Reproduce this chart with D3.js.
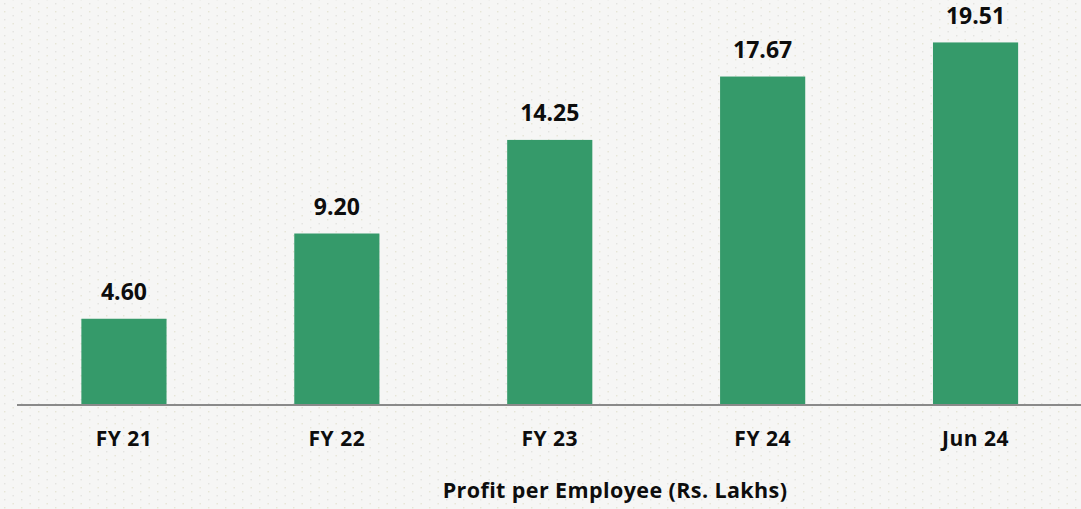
<!DOCTYPE html>
<html>
<head>
<meta charset="utf-8">
<script src="https://cdn.jsdelivr.net/npm/d3@7"></script>
<style>
  html, body { margin: 0; padding: 0; background: #f6f6f5; }
  svg { display: block; }
  text { font-family: "Open Sans", "Lato", sans-serif; font-weight: 700; fill: #0d0d0d; }
</style>
</head>
<body>
<svg id="chart" width="1081" height="509"></svg>
<script>
// Profit per employee, Rs. lakhs
const categories = ["FY 21", "FY 22", "FY 23", "FY 24", "Jun 24"];
const values = [4.60, 9.20, 14.25, 17.67, 19.51];
const valueLabels = ["4.60", "9.20", "14.25", "17.67", "19.51"];
const axisTitle = "Profit per Employee (Rs. Lakhs)";

const W = 1081, H = 509;
const baseY = 404;

const svg = d3.select("#chart");

// dotted paper background
const defs = svg.append("defs");
const pat = defs.append("pattern")
  .attr("id", "dots")
  .attr("patternUnits", "userSpaceOnUse")
  .attr("width", 17).attr("height", 16)
  .attr("x", 4).attr("y", 3);
pat.append("rect").attr("width", 17).attr("height", 16).attr("fill", "#f6f6f5");
pat.append("rect").attr("x", 0).attr("y", 0).attr("width", 1.4).attr("height", 1.4).attr("fill", "#e3e3e0");
pat.append("rect").attr("x", 8.5).attr("y", 4).attr("width", 1.4).attr("height", 1.4).attr("fill", "#e6e5d6");
pat.append("rect").attr("x", 0).attr("y", 8).attr("width", 1.4).attr("height", 1.4).attr("fill", "#e6e5d6");
pat.append("rect").attr("x", 8.5).attr("y", 12).attr("width", 1.4).attr("height", 1.4).attr("fill", "#e3e3e0");
svg.append("rect").attr("width", W).attr("height", H).attr("fill", "url(#dots)");

const x = d3.scaleBand()
  .domain(categories)
  .range([17.5, 1082])
  .paddingInner(0.6)
  .paddingOuter(0.3);

const y = d3.scaleLinear()
  .domain([0, 21.8])
  .range([baseY, 0]);

// bars
svg.append("g").selectAll("rect")
  .data(values)
  .join("rect")
  .attr("x", (d, i) => x(categories[i]))
  .attr("y", d => y(d))
  .attr("width", x.bandwidth())
  .attr("height", d => baseY - y(d))
  .attr("fill", "#359a6a");

// value labels
svg.append("g").selectAll("text")
  .data(values)
  .join("text")
  .attr("x", (d, i) => x(categories[i]) + x.bandwidth() / 2)
  .attr("y", d => y(d) - 18.5)
  .attr("text-anchor", "middle")
  .attr("font-size", 23)
  .text((d, i) => valueLabels[i]);

// baseline axis
const axis = d3.axisBottom(x).tickSize(0).tickPadding(0);
const gx = svg.append("g").attr("transform", `translate(0,${baseY + 1})`).call(axis);
gx.select(".domain")
  .attr("d", `M17,0H${W}`)
  .attr("stroke", "#8a8a8a")
  .attr("stroke-width", 2.2);
gx.selectAll(".tick text")
  .attr("y", 0)
  .attr("dy", 0)
  .attr("transform", "translate(0,40.5)")
  .attr("font-size", 21)
  .attr("letter-spacing", 0.5)
  .attr("font-family", "'Open Sans', Lato, sans-serif")
  .attr("font-weight", 700)
  .attr("fill", "#0d0d0d");

// axis title
svg.append("text")
  .attr("x", 615)
  .attr("y", 498)
  .attr("text-anchor", "middle")
  .attr("font-size", 21.5)
  .attr("letter-spacing", 0.4)
  .text(axisTitle);
</script>
</body>
</html>
